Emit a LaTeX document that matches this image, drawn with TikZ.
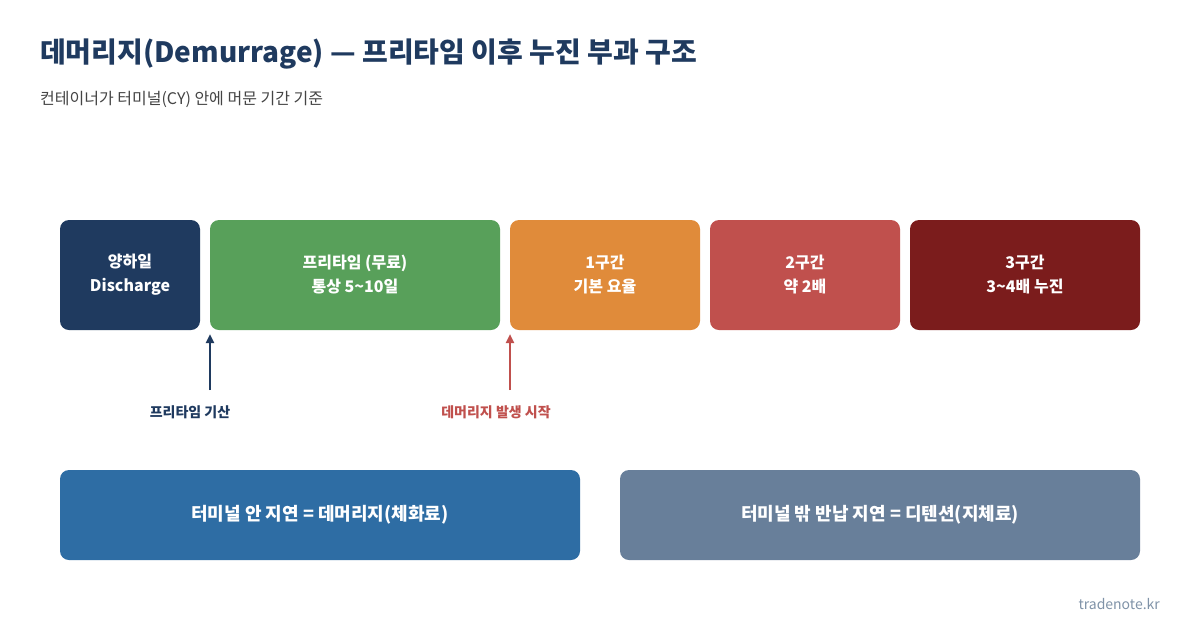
\documentclass[tikz,border=0pt]{standalone}
\usepackage{fontspec}
\setmainfont{Noto Sans CJK KR}
\usetikzlibrary{arrows.meta}
\definecolor{navy}{HTML}{1F3A5F}
\definecolor{freegreen}{HTML}{58A05A}
\definecolor{zoneone}{HTML}{E08B3A}
\definecolor{zonetwo}{HTML}{C0504D}
\definecolor{zonethree}{HTML}{7B1C1C}
\definecolor{demblue}{HTML}{2E6DA4}
\definecolor{detslate}{HTML}{687F9A}
\definecolor{subgrey}{HTML}{444444}
\definecolor{footgrey}{HTML}{8093A8}
\begin{document}
\begin{tikzpicture}[x=1pt,y=-1pt,
  stagebox/.style={rounded corners=9pt, inner sep=0pt, text=white, font=\bfseries\fontsize{16}{24}\selectfont, align=center},
  notebox/.style={rounded corners=9pt, inner sep=0pt, text=white, font=\bfseries\fontsize{18}{22}\selectfont, align=center},
  marker/.style={line width=2.5pt, -{Triangle[length=9pt,width=8pt]}},
  marklabel/.style={font=\bfseries\fontsize{14}{16}\selectfont, anchor=base}]
\useasboundingbox[fill=white] (0,0) rectangle (1200,630);
\node[anchor=base west, text=navy, font=\bfseries\fontsize{28}{32}\selectfont, inner sep=0pt] (title) at (40,62) {데머리지(Demurrage) — 프리타임 이후 누진 부과 구조};
\node[anchor=base west, text=subgrey, font=\fontsize{16}{18}\selectfont, inner sep=0pt] (sub) at (40,104) {컨테이너가 터미널(CY) 안에 머문 기간 기준};

\node[stagebox, fill=navy, minimum width=140pt, minimum height=110pt] (dis) at (130,275) {양하일\\Discharge};
\node[stagebox, fill=freegreen, minimum width=290pt, minimum height=110pt] (free) at (355,275) {프리타임 (무료)\\통상 5\textasciitilde10일};
\node[stagebox, fill=zoneone, minimum width=190pt, minimum height=110pt] (z1) at (605,275) {1구간\\기본 요율};
\node[stagebox, fill=zonetwo, minimum width=190pt, minimum height=110pt] (z2) at (805,275) {2구간\\약 2배};
\node[stagebox, fill=zonethree, minimum width=230pt, minimum height=110pt] (z3) at (1025,275) {3구간\\3\textasciitilde4배 누진};

\coordinate (a1s) at (210,390);
\coordinate (a1e) at (210,334);
\coordinate (a2s) at (510,390);
\coordinate (a2e) at (510,334);
\draw[marker, navy] (a1s) -- (a1e);
\draw[marker, zonetwo] (a2s) -- (a2e);
\node[marklabel, text=navy] (l1) at (190,417) {프리타임 기산};
\node[marklabel, text=zonetwo] (l2) at (496,417) {데머리지 발생 시작};

\node[notebox, fill=demblue, minimum width=520pt, minimum height=90pt] (dem) at (320,515) {터미널 안 지연 = 데머리지(체화료)};
\node[notebox, fill=detslate, minimum width=520pt, minimum height=90pt] (det) at (880,515) {터미널 밖 반납 지연 = 디텐션(지체료)};

\node[anchor=base east, text=footgrey, font=\fontsize{14}{18}\selectfont, inner sep=0pt] (foot) at (1160,609) {tradenote.kr};
\end{tikzpicture}
\end{document}
